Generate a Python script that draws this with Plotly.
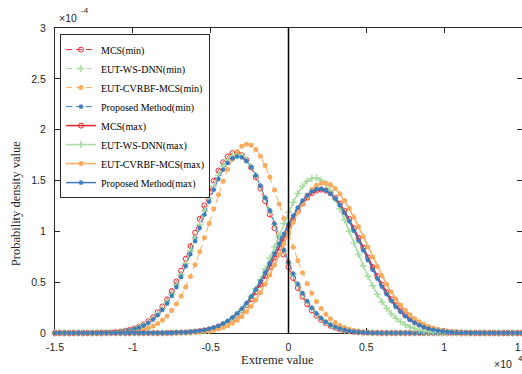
import numpy as np
import plotly.graph_objects as go

# x grid in units of 1e4 (sampling positions of the curves)
x_vals = np.round(np.linspace(-1.5, 1.5, 101), 2)

# Probability densities, in units of 1e-4
mcs_min = [
    0, 0, 0, 0, 0, 0, 0, 0, 0.001, 0.002,
    0.003, 0.004, 0.007, 0.010, 0.015, 0.022, 0.032, 0.045, 0.063, 0.086,
    0.117, 0.155, 0.203, 0.261, 0.331, 0.413, 0.507, 0.613, 0.730, 0.855,
    0.987, 1.122, 1.255, 1.381, 1.498, 1.598, 1.679, 1.737, 1.769, 1.773,
    1.751, 1.701, 1.628, 1.533, 1.421, 1.298, 1.166, 1.032, 0.899, 0.771,
    0.651, 0.541, 0.443, 0.357, 0.283, 0.221, 0.170, 0.128, 0.096, 0.070,
    0.051, 0.036, 0.025, 0.017, 0.012, 0.008, 0.005, 0.003, 0.002, 0.001,
    0, 0, 0, 0, 0, 0, 0, 0, 0, 0,
    0, 0, 0, 0, 0, 0, 0, 0, 0, 0,
    0, 0, 0, 0, 0, 0, 0, 0, 0, 0,
    0]
ws_min = [
    0, 0, 0, 0, 0, 0, 0, 0, 0.001, 0.002,
    0.003, 0.004, 0.006, 0.009, 0.013, 0.020, 0.028, 0.040, 0.057, 0.078,
    0.106, 0.141, 0.186, 0.240, 0.305, 0.383, 0.472, 0.573, 0.685, 0.807,
    0.935, 1.068, 1.201, 1.328, 1.447, 1.552, 1.639, 1.704, 1.744, 1.758,
    1.744, 1.704, 1.639, 1.552, 1.447, 1.328, 1.200, 1.068, 0.936, 0.807,
    0.685, 0.573, 0.472, 0.383, 0.305, 0.240, 0.186, 0.141, 0.106, 0.078,
    0.057, 0.041, 0.028, 0.020, 0.014, 0.009, 0.006, 0.004, 0.002, 0.001,
    0, 0, 0, 0, 0, 0, 0, 0, 0, 0,
    0, 0, 0, 0, 0, 0, 0, 0, 0, 0,
    0, 0, 0, 0, 0, 0, 0, 0, 0, 0,
    0]
cvrbf_min = [
    0, 0, 0, 0, 0, 0, 0, 0, 0, 0,
    0, 0.001, 0.002, 0.003, 0.005, 0.007, 0.011, 0.016, 0.023, 0.034,
    0.048, 0.068, 0.093, 0.126, 0.168, 0.221, 0.285, 0.362, 0.452, 0.556,
    0.672, 0.800, 0.936, 1.078, 1.221, 1.361, 1.493, 1.611, 1.710, 1.786,
    1.836, 1.856, 1.846, 1.806, 1.739, 1.647, 1.534, 1.406, 1.269, 1.126,
    0.983, 0.844, 0.713, 0.593, 0.485, 0.390, 0.309, 0.241, 0.184, 0.139,
    0.103, 0.075, 0.054, 0.038, 0.027, 0.018, 0.012, 0.008, 0.005, 0.003,
    0.002, 0.001, 0, 0, 0, 0, 0, 0, 0, 0,
    0, 0, 0, 0, 0, 0, 0, 0, 0, 0,
    0, 0, 0, 0, 0, 0, 0, 0, 0, 0,
    0]
prop_min = [
    0, 0, 0, 0, 0, 0, 0, 0, 0, 0.001,
    0.002, 0.003, 0.005, 0.008, 0.012, 0.018, 0.026, 0.038, 0.053, 0.073,
    0.099, 0.133, 0.175, 0.227, 0.290, 0.365, 0.451, 0.549, 0.658, 0.777,
    0.903, 1.033, 1.165, 1.292, 1.411, 1.517, 1.606, 1.674, 1.718, 1.736,
    1.727, 1.691, 1.631, 1.549, 1.447, 1.332, 1.207, 1.077, 0.946, 0.818,
    0.697, 0.584, 0.482, 0.392, 0.314, 0.247, 0.192, 0.146, 0.110, 0.081,
    0.059, 0.043, 0.030, 0.021, 0.014, 0.010, 0.006, 0.004, 0.002, 0.001,
    0, 0, 0, 0, 0, 0, 0, 0, 0, 0,
    0, 0, 0, 0, 0, 0, 0, 0, 0, 0,
    0, 0, 0, 0, 0, 0, 0, 0, 0, 0,
    0]
mcs_max = [
    0, 0, 0, 0, 0, 0, 0, 0, 0, 0,
    0, 0, 0, 0, 0, 0, 0, 0, 0, 0,
    0, 0, 0, 0, 0.001, 0.002, 0.003, 0.004, 0.006, 0.009,
    0.013, 0.019, 0.026, 0.035, 0.048, 0.063, 0.084, 0.109, 0.139, 0.177,
    0.221, 0.273, 0.333, 0.402, 0.477, 0.560, 0.649, 0.743, 0.839, 0.936,
    1.030, 1.120, 1.201, 1.273, 1.331, 1.374, 1.401, 1.410, 1.401, 1.374,
    1.331, 1.273, 1.201, 1.120, 1.030, 0.936, 0.839, 0.743, 0.649, 0.560,
    0.477, 0.402, 0.333, 0.273, 0.221, 0.177, 0.139, 0.109, 0.084, 0.063,
    0.048, 0.035, 0.026, 0.019, 0.013, 0.009, 0.006, 0.004, 0.003, 0.002,
    0.001, 0, 0, 0, 0, 0, 0, 0, 0, 0,
    0]
ws_max = [
    0, 0, 0, 0, 0, 0, 0, 0, 0, 0,
    0, 0, 0, 0, 0, 0, 0, 0, 0, 0,
    0, 0, 0, 0, 0, 0.001, 0.002, 0.002, 0.004, 0.006,
    0.009, 0.013, 0.019, 0.028, 0.039, 0.054, 0.074, 0.100, 0.133, 0.174,
    0.224, 0.284, 0.355, 0.435, 0.527, 0.627, 0.735, 0.848, 0.964, 1.078,
    1.187, 1.286, 1.373, 1.443, 1.492, 1.520, 1.524, 1.504, 1.462, 1.398,
    1.317, 1.221, 1.115, 1.002, 0.886, 0.772, 0.662, 0.559, 0.465, 0.380,
    0.306, 0.243, 0.190, 0.146, 0.110, 0.082, 0.060, 0.044, 0.031, 0.022,
    0.015, 0.010, 0.007, 0.004, 0.003, 0.002, 0.001, 0.001, 0, 0,
    0, 0, 0, 0, 0, 0, 0, 0, 0, 0,
    0]
cvrbf_max = [
    0, 0, 0, 0, 0, 0, 0, 0, 0, 0,
    0, 0, 0, 0, 0, 0, 0, 0, 0, 0,
    0, 0, 0, 0, 0, 0, 0.001, 0.002, 0.003, 0.004,
    0.006, 0.009, 0.014, 0.020, 0.028, 0.039, 0.053, 0.072, 0.096, 0.126,
    0.163, 0.208, 0.262, 0.325, 0.398, 0.480, 0.570, 0.668, 0.771, 0.878,
    0.985, 1.090, 1.188, 1.277, 1.352, 1.412, 1.453, 1.474, 1.475, 1.457,
    1.421, 1.369, 1.303, 1.225, 1.138, 1.044, 0.946, 0.846, 0.748, 0.653,
    0.563, 0.479, 0.403, 0.335, 0.275, 0.223, 0.179, 0.141, 0.110, 0.085,
    0.065, 0.049, 0.036, 0.027, 0.019, 0.014, 0.010, 0.007, 0.005, 0.003,
    0.002, 0.001, 0, 0, 0, 0, 0, 0, 0, 0,
    0]
prop_max = [
    0, 0, 0, 0, 0, 0, 0, 0, 0, 0,
    0, 0, 0, 0, 0, 0, 0, 0, 0, 0,
    0, 0, 0, 0, 0.001, 0.002, 0.003, 0.005, 0.007, 0.010,
    0.015, 0.021, 0.029, 0.040, 0.053, 0.070, 0.093, 0.120, 0.153, 0.193,
    0.240, 0.295, 0.358, 0.430, 0.508, 0.594, 0.685, 0.780, 0.877, 0.974,
    1.067, 1.155, 1.234, 1.301, 1.355, 1.393, 1.414, 1.417, 1.402, 1.369,
    1.321, 1.258, 1.182, 1.098, 1.006, 0.910, 0.813, 0.717, 0.624, 0.536,
    0.455, 0.382, 0.315, 0.257, 0.208, 0.165, 0.130, 0.101, 0.078, 0.058,
    0.044, 0.032, 0.024, 0.017, 0.012, 0.008, 0.005, 0.004, 0.003, 0.002,
    0.001, 0, 0, 0, 0, 0, 0, 0, 0, 0,
    0]

series_names = ["MCS(min)", "EUT-WS-DNN(min)", "EUT-CVRBF-MCS(min)", "Proposed Method(min)",
                "MCS(max)", "EUT-WS-DNN(max)", "EUT-CVRBF-MCS(max)", "Proposed Method(max)"]
series_values = [mcs_min, ws_min, cvrbf_min, prop_min, mcs_max, ws_max, cvrbf_max, prop_max]

x_ticks = [-1.5, -1, -0.5, 0, 0.5, 1, 1.5]
x_tick_labels = ["-1.5", "-1", "-0.5", "0", "0.5", "1", "1.5"]
y_ticks = [0, 0.5, 1, 1.5, 2, 2.5, 3]
y_tick_labels = ["0", "0.5", "1", "1.5", "2", "2.5", "3"]

RED = "#e8262b"
GREEN = "#a8dca0"
ORANGE = "#fbab5e"
BLUE = "#3b7dbd"
AX = "#262626"

styles = [
    dict(color=RED, symbol="circle-open", size=5, lw=1.0, dash="6px,4px", mlw=1.0),
    dict(color=GREEN, symbol="cross-thin-open", size=5, lw=1.0, dash="6px,4px", mlw=1.5),
    dict(color=ORANGE, symbol="circle", size=5, lw=1.0, dash="6px,4px", mlw=0),
    dict(color=BLUE, symbol="asterisk-open", size=4, lw=1.0, dash="6px,4px", mlw=1.2),
    dict(color=RED, symbol="circle-open", size=5, lw=1.5, dash="solid", mlw=1.0),
    dict(color=GREEN, symbol="cross-thin-open", size=5, lw=1.5, dash="solid", mlw=1.5),
    dict(color=ORANGE, symbol="circle", size=5, lw=1.5, dash="solid", mlw=0),
    dict(color=BLUE, symbol="asterisk-open", size=4, lw=1.5, dash="solid", mlw=1.2),
]

fig = go.Figure()
for name, vals, st in zip(series_names, series_values, styles):
    fig.add_trace(go.Scatter(
        x=x_vals, y=vals, mode="lines+markers", name=name,
        line=dict(color=st["color"], width=st["lw"], dash=st["dash"]),
        marker=dict(symbol=st["symbol"], size=st["size"], color=st["color"],
                    line=dict(width=st["mlw"], color=st["color"])),
        cliponaxis=False,
    ))

tickfont = dict(family="Liberation Sans, Arial, sans-serif", size=10.5, color=AX)
supfont = dict(family="Liberation Sans, Arial, sans-serif", size=8, color=AX)
fig.update_layout(
    width=522, height=374,
    margin=dict(l=55, r=0, t=28, b=41),
    paper_bgcolor="white", plot_bgcolor="white",
    template="none",
    showlegend=True,
    legend=dict(
        x=0.0107, y=0.98, xanchor="left", yanchor="top",
        bgcolor="white", bordercolor=AX, borderwidth=1,
        font=dict(family="Liberation Serif, Times New Roman, serif", size=10, color="black"),
        itemwidth=30, tracegroupgap=0,
    ),
    xaxis=dict(
        range=[-1.5, 1.5], tickvals=x_ticks, ticktext=x_tick_labels,
        ticks="inside", ticklen=5, tickcolor=AX, tickwidth=1,
        showline=True, linecolor=AX, linewidth=1, mirror="ticks",
        showgrid=False, zeroline=False, tickfont=tickfont,
        layer="below traces", ticklabelstandoff=4, ticklabeloverflow="allow",
    ),
    yaxis=dict(
        range=[0, 3], tickvals=y_ticks, ticktext=y_tick_labels,
        ticks="inside", ticklen=5, tickcolor=AX, tickwidth=1,
        showline=True, linecolor=AX, linewidth=1, mirror="ticks",
        showgrid=False, zeroline=False, tickfont=tickfont,
        layer="below traces", ticklabelstandoff=6, ticklabeloverflow="allow",
    ),
)

# vertical reference line at zero
fig.add_shape(type="line", xref="x", yref="paper", x0=0, x1=0, y0=0, y1=1,
              line=dict(color="black", width=1.5), layer="above")

serif = dict(family="Liberation Serif, Times New Roman, serif", size=12.5, color=AX)
fig.add_annotation(text="Extreme value", xref="paper", yref="paper",
                   x=0.4754, y=-0.0886, xanchor="center", yanchor="middle",
                   showarrow=False, font=serif)
fig.add_annotation(text="Probability density value", xref="paper", yref="paper",
                   x=-0.083, y=0.423, xanchor="center", yanchor="middle",
                   textangle=-90, showarrow=False, font=serif)
# axis exponents (MATLAB style)
fig.add_annotation(text="×10", xref="paper", yref="paper",
                   x=0.0043, y=1.032, xanchor="left", yanchor="middle",
                   showarrow=False, font=tickfont)
fig.add_annotation(text="-4", xref="paper", yref="paper",
                   x=0.0514, y=1.058, xanchor="left", yanchor="middle",
                   showarrow=False, font=supfont)
fig.add_annotation(text="×10", xref="paper", yref="paper",
                   x=0.983, y=-0.100, xanchor="right", yanchor="middle",
                   showarrow=False, font=tickfont)
fig.add_annotation(text="4", xref="paper", yref="paper",
                   x=0.987, y=-0.0837, xanchor="left", yanchor="middle",
                   showarrow=False, font=supfont)

fig.write_html("out.html", config={"displayModeBar": False},
               post_script="document.body.style.margin='0';document.body.style.padding='0';")
